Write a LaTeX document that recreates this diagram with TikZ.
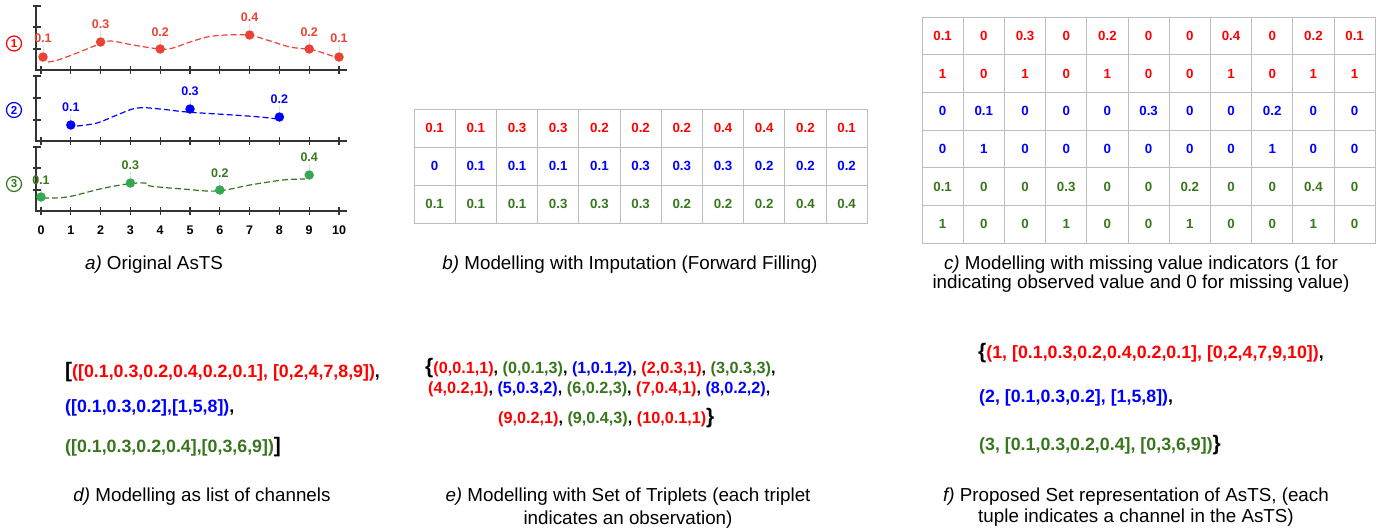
\documentclass[tikz,border=0pt]{standalone}
\usepackage{fontspec}
\setmainfont{Liberation Sans}
\definecolor{cred}{HTML}{FF0000}
\definecolor{pred}{HTML}{EA4335}
\definecolor{cblue}{HTML}{0000FF}
\definecolor{cgreen}{HTML}{38761D}
\definecolor{pgreen}{HTML}{34A853}
\definecolor{gridc}{HTML}{BDBDBD}
\definecolor{axc}{HTML}{333333}
\newcommand\redt[1]{\textcolor{cred}{#1}}
\newcommand\bluet[1]{\textcolor{cblue}{#1}}
\newcommand\greent[1]{\textcolor{cgreen}{#1}}
\newcommand\bigbr[1]{{\fontsize{21}{21}\selectfont #1}}
\begin{document}
\begin{tikzpicture}[x=1pt,y=-1pt,
  ax/.style={line width=1.3pt, draw=axc},
  curve/.style={line width=1.2pt, dash pattern=on 6pt off 3pt, smooth, tension=0.6},
  pt/.style={circle, fill=#1, inner sep=0, minimum size=9.5pt},
  plab/.style={text=#1, font=\fontsize{12.5}{12.5}\selectfont\bfseries, inner sep=0},
  guide/.style={draw=black!12, line width=0.8pt},
  circnum/.style={circle, draw=#1, text=#1, line width=1.2pt, inner sep=0, minimum size=15pt, font=\fontsize{11.5}{11.5}\selectfont\bfseries},
  xlab/.style={font=\fontsize{12.5}{12.5}\selectfont\bfseries, inner sep=0},
  cellb/.style={draw=gridc, line width=1pt, minimum width=41.2pt, minimum height=38pt, inner sep=0, text=#1, font=\fontsize{13.3}{13.3}\selectfont\bfseries},
  cellc/.style={draw=gridc, line width=1pt, minimum width=41.2pt, minimum height=37.7pt, inner sep=0, text=#1, font=\fontsize{13.3}{13.3}\selectfont\bfseries},
  cap/.style={font=\fontsize{18.8}{#1}\selectfont, align=center, inner sep=0},
  dtxt/.style={font=\fontsize{17.8}{17.8}\selectfont\bfseries, inner sep=0, anchor=west},
  etxt/.style={font=\fontsize{16.2}{16.2}\selectfont\bfseries, inner sep=0, anchor=west}
]
\useasboundingbox (0,0) rectangle (1391,531);

% ---------- a) plot ----------
\draw[ax] (36,6) -- (36,70) -- (347,70);
\draw[ax] (36,76) -- (36,141) -- (347,141);
\draw[ax] (36,147) -- (36,211) -- (347,211);
\foreach \t in {6,27,49,76,98,120,147,168,190} \draw[ax] (33,\t) -- (41,\t);
\foreach \i in {0,...,10} {
  \draw[ax] (41+29.8*\i,66) -- (41+29.8*\i,74);
  \draw[ax] (41+29.8*\i,137) -- (41+29.8*\i,145);
  \draw[ax] (41+29.8*\i,207) -- (41+29.8*\i,215);
  \node[xlab] (xl\i) at (41+29.8*\i,230) {\i};
}
% curves
\draw[curve, pred] plot coordinates {(48,62) (58,60) (77,53) (97,45) (110,41) (133,45) (160,49) (173,48) (190,42) (213,36) (247,35) (267,40) (290,47) (313,50) (335,57)};
\draw[curve, cblue] plot coordinates {(77,126) (97,123) (117,115) (137,108) (160,109) (187,112) (233,115) (260,117) (277,119)};
\draw[curve, cgreen] plot coordinates {(43,198) (67,197) (100,189) (127,184) (145,183) (150,186) (183,189) (217,191) (250,185) (283,180) (305,179)};
% guides
\foreach \x/\py/\ly in {43/57/38, 100.6/42/24, 160.2/49/32, 249.6/35/17, 309.2/49/32, 339/57/38, 70.8/125/107, 190/109/91, 279.4/117/99, 41/197/180, 130.4/183/165, 219.8/190/173, 309.2/175/157}
  \draw[guide] (\x,\ly+7) -- (\x,\py-4);
% points and labels
\foreach \x/\py/\ly/\v/\n in {43/57/38/0.1/0, 100.6/42/24/0.3/2, 160.2/49/32/0.2/4, 249.6/35/17/0.4/7, 309.2/49/32/0.2/9, 339/57/38/0.1/10} {
  \node[pt=pred] (r\n) at (\x,\py) {};
  \node[plab=pred] (rl\n) at (\x,\ly) {\v};
}
\foreach \i/\py/\ly/\v in {1/125/107/0.1, 5/109/91/0.3, 8/117/99/0.2} {
  \node[pt=cblue] (b\i) at (41+29.8*\i,\py) {};
  \node[plab=cblue] (bl\i) at (41+29.8*\i,\ly) {\v};
}
\foreach \i/\py/\ly/\v in {0/197/180/0.1, 3/183/165/0.3, 6/190/173/0.2, 9/175/157/0.4} {
  \node[pt=pgreen] (g\i) at (41+29.8*\i,\py) {};
  \node[plab=cgreen] (gl\i) at (41+29.8*\i,\ly) {\v};
}
\node[circnum=cred] (n1) at (14,43.5) {1};
\node[circnum=cblue] (n2) at (14,110) {2};
\node[circnum=cgreen] (n3) at (14,184) {3};
\node[cap=21] (capa) at (154,265) {\textit{a)} Original AsTS};

% ---------- b) table ----------
\foreach \r/\cc/\vals in {1/cred/{0.1,0.1,0.3,0.3,0.2,0.2,0.2,0.4,0.4,0.2,0.1},
                          2/cblue/{0,0.1,0.1,0.1,0.1,0.3,0.3,0.3,0.2,0.2,0.2},
                          3/cgreen/{0.1,0.1,0.1,0.3,0.3,0.3,0.2,0.2,0.2,0.4,0.4}}
  \foreach \v [count=\c] in \vals
    \node[cellb=\cc] (tb-\r-\c) at (414+41.2*\c-20.6, 109+38*\r-19) {\v};
\node[cap=21] (capb) at (630,265) {\textit{b)} Modelling with Imputation (Forward Filling)};

% ---------- c) table ----------
\foreach \r/\cc/\vals in {1/cred/{0.1,0,0.3,0,0.2,0,0,0.4,0,0.2,0.1},
                          2/cred/{1,0,1,0,1,0,0,1,0,1,1},
                          3/cblue/{0,0.1,0,0,0,0.3,0,0,0.2,0,0},
                          4/cblue/{0,1,0,0,0,0,0,0,1,0,0},
                          5/cgreen/{0.1,0,0,0.3,0,0,0.2,0,0,0.4,0},
                          6/cgreen/{1,0,0,1,0,0,1,0,0,1,0}}
  \foreach \v [count=\c] in \vals
    \node[cellc=\cc] (tc-\r-\c) at (922+41.2*\c-20.6, 17+37.7*\r-18.85) {\v};
\node[cap=19.5] (capc) at (1141,274) {\textit{c)} Modelling with missing value indicators (1 for\\indicating observed value and 0 for missing value)};

% ---------- d) ----------
\node[dtxt] (d1) at (65,372) {\bigbr{[}\redt{([0.1,0.3,0.2,0.4,0.2,0.1], [0,2,4,7,8,9])},};
\node[dtxt] (d2) at (65,408) {\bluet{([0.1,0.3,0.2],[1,5,8])},};
\node[dtxt] (d3) at (65,447) {\greent{([0.1,0.3,0.2,0.4],[0,3,6,9])}\bigbr{]}};
\node[cap=21] (capd) at (202,497) {\textit{d)} Modelling as list of channels};

% ---------- e) ----------
\node[etxt] (e1) at (425,368) {\bigbr{\{}\redt{(0,0.1,1)}, \greent{(0,0.1,3)}, \bluet{(1,0.1,2)}, \redt{(2,0.3,1)}, \greent{(3,0.3,3)},};
\node[etxt] (e2) at (428,389) {\redt{(4,0.2,1)}, \bluet{(5,0.3,2)}, \greent{(6,0.2,3)}, \redt{(7,0.4,1)}, \bluet{(8,0.2,2)},};
\node[etxt] (e3) at (498,418) {\redt{(9,0.2,1)}, \greent{(9,0.4,3)}, \redt{(10,0.1,1)}\bigbr{\}}};
\node[cap=23] (cape) at (628,508.5) {\textit{e)} Modelling with Set of Triplets (each triplet\\indicates an observation)};

% ---------- f) ----------
\node[dtxt] (f1) at (978,353) {\bigbr{\{}\redt{(1, [0.1,0.3,0.2,0.4,0.2,0.1], [0,2,4,7,9,10])},};
\node[dtxt] (f2) at (979,398) {\bluet{(2, [0.1,0.3,0.2], [1,5,8])},};
\node[dtxt] (f3) at (979,445) {\greent{(3, [0.1,0.3,0.2,0.4], [0,3,6,9])}\bigbr{\}}};
\node[cap=21] (capf) at (1136,507.5) {\textit{f)} Proposed Set representation of AsTS, (each\\tuple indicates a channel in the AsTS)};
\end{tikzpicture}
\end{document}
